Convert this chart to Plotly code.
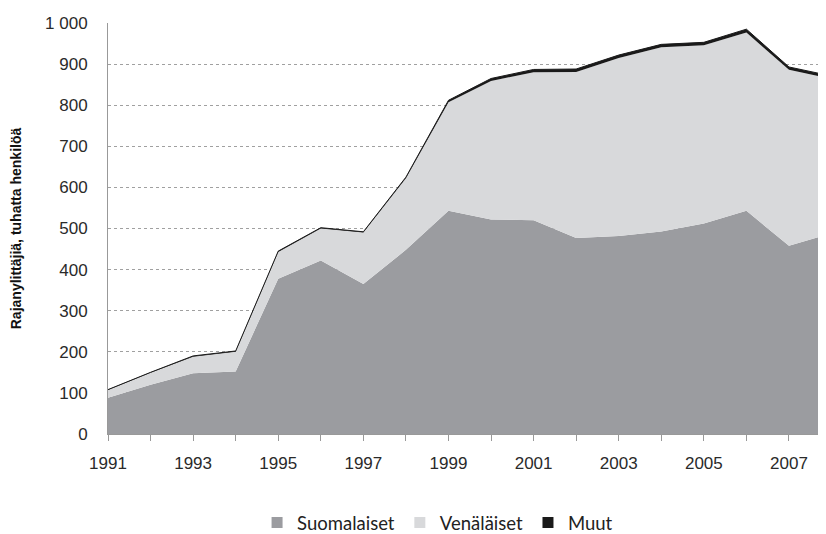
import plotly.graph_objects as go

years = list(range(1991, 2009))
total = [108, 150, 190, 202, 445, 502, 492, 625, 812, 865, 887, 888, 922, 948, 953, 985, 893, 871]
suomalaiset = [88, 120, 148, 152, 378, 422, 365, 448, 543, 522, 520, 477, 482, 493, 512, 543, 458, 488]
muut = [1, 1, 2, 2, 2, 2, 2, 3, 5, 6, 7, 7, 7, 7, 7, 8, 7, 7]
venalaiset = [t - s - m for t, s, m in zip(total, suomalaiset, muut)]

series_names = ["Suomalaiset", "Venäläiset", "Muut"]
colors = ["#9b9ca0", "#d8d9db", "#1a1a1a"]

y_tickvals = [0, 100, 200, 300, 400, 500, 600, 700, 800, 900, 1000]
y_ticktext = ["0", "100", "200", "300", "400", "500", "600", "700", "800", "900", "1 000"]
x_ticktext = [str(y) if (y - 1991) % 2 == 0 else "" for y in years]

fig = go.Figure()
for name, vals, col in zip(series_names, [suomalaiset, venalaiset, muut], colors):
    is_muut = name == "Muut"
    fig.add_trace(go.Scatter(
        x=years, y=vals, name=name, stackgroup="one", mode="lines",
        line=dict(color="#1a1a1a" if is_muut else col, width=1.0 if is_muut else 0),
        fillcolor=col, showlegend=False, hoverinfo="x+y+name",
    ))
for name, col in zip(series_names, colors):
    fig.add_trace(go.Scatter(
        x=[None], y=[None], name=name, mode="markers",
        marker=dict(symbol="square", size=11, color=col), showlegend=True,
    ))

# page body has an 8px default margin, so the figure is 8px smaller
fig.update_layout(
    width=818, height=526,
    margin=dict(l=100, r=0, t=15, b=100, autoexpand=False),
    paper_bgcolor="white", plot_bgcolor="white",
    font=dict(family="Liberation Sans, Arial, sans-serif", size=17, color="#2a2a2a"),
    legend=dict(orientation="h", x=0.459, xanchor="center", y=-0.2165, yanchor="middle",
                font=dict(family="Lato, sans-serif", size=18.5, color="#222222"),
                itemwidth=30, tracegroupgap=0, traceorder="normal"),
    xaxis=dict(range=[1991, 2007.87], tickvals=years, ticktext=x_ticktext,
               ticks="outside", ticklen=6, tickcolor="#999999", showline=True,
               linecolor="#999999", linewidth=1, showgrid=False, zeroline=False,
               ticklabelstandoff=8, automargin=False),
    yaxis=dict(range=[0, 1000], tickvals=y_tickvals, ticktext=y_ticktext,
               showline=True, linecolor="#999999", linewidth=1,
               showgrid=True, gridcolor="#a0a0a0", griddash="dot", gridwidth=1,
               zeroline=False, ticks="", ticklabelstandoff=16, automargin=False,
               title=dict(text="<b>Rajanylittäjiä, tuhatta henkilöä</b>",
                          font=dict(size=14, color="#111111"), standoff=20)),
)

fig.write_html("out.html")
